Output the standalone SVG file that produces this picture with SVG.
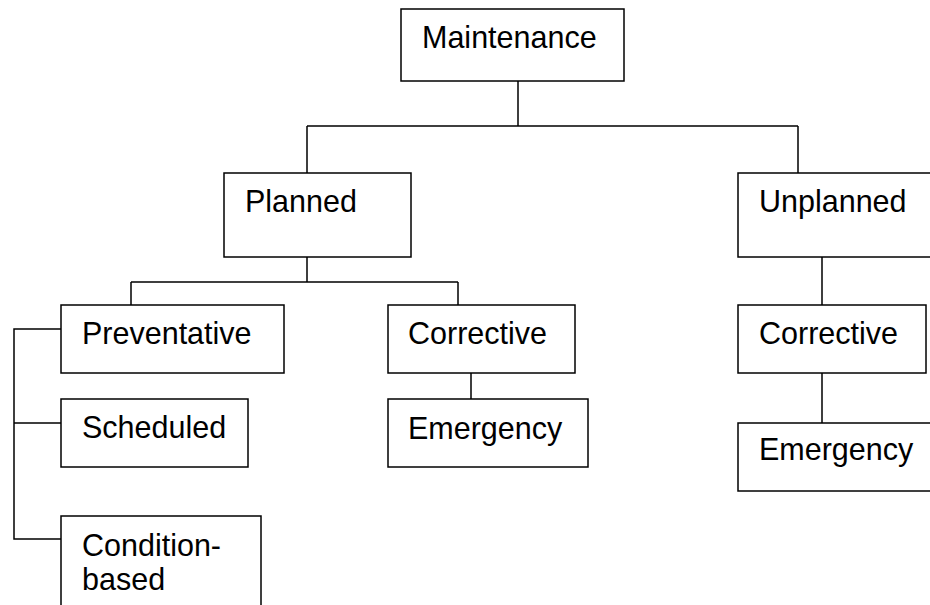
<svg xmlns="http://www.w3.org/2000/svg" width="930" height="605" viewBox="0 0 930 605">
<style>
.box{fill:#fff;stroke:#000;stroke-width:1.5}
.lbl{font-family:"Liberation Sans",Arial,sans-serif;font-size:30.5px;fill:#000}
.con{fill:none;stroke:#000;stroke-width:1.5}
</style>
<rect width="930" height="605" fill="#fff"/>
<g id="connectors">
<path class="con" d="M518 81V126M307 126H798M307 126V173M798 126V173"/>
<path class="con" d="M307 257V282M131 282H458M131 282V305M458 282V305"/>
<path class="con" d="M822 257V305M822 373V423M471 373V399"/>
<path class="con" d="M61 329H14V539H61M14 423H61"/>
</g>
<g id="maintenance"><rect class="box" x="401" y="9" width="223" height="72"/><text class="lbl" x="422" y="48">Maintenance</text></g>
<g id="planned"><rect class="box" x="224" y="173" width="187" height="84"/><text class="lbl" x="245" y="212">Planned</text></g>
<g id="unplanned"><rect class="box" x="738" y="173" width="200" height="84"/><text class="lbl" x="759" y="212">Unplanned</text></g>
<g id="preventative"><rect class="box" x="61" y="305" width="223" height="68"/><text class="lbl" x="82" y="344">Preventative</text></g>
<g id="scheduled"><rect class="box" x="61" y="399" width="187" height="68"/><text class="lbl" x="82" y="438">Scheduled</text></g>
<g id="condition-based"><rect class="box" x="61" y="516" width="200" height="100"/><text class="lbl" x="82" y="556">Condition-</text><text class="lbl" x="82" y="590">based</text></g>
<g id="corrective-planned"><rect class="box" x="388" y="305" width="187" height="68"/><text class="lbl" x="408" y="344">Corrective</text></g>
<g id="emergency-planned"><rect class="box" x="388" y="399" width="200" height="68"/><text class="lbl" x="408" y="439">Emergency</text></g>
<g id="corrective-unplanned"><rect class="box" x="738" y="305" width="188" height="68"/><text class="lbl" x="759" y="344">Corrective</text></g>
<g id="emergency-unplanned"><rect class="box" x="738" y="423" width="200" height="68"/><text class="lbl" x="759" y="460">Emergency</text></g>
</svg>
